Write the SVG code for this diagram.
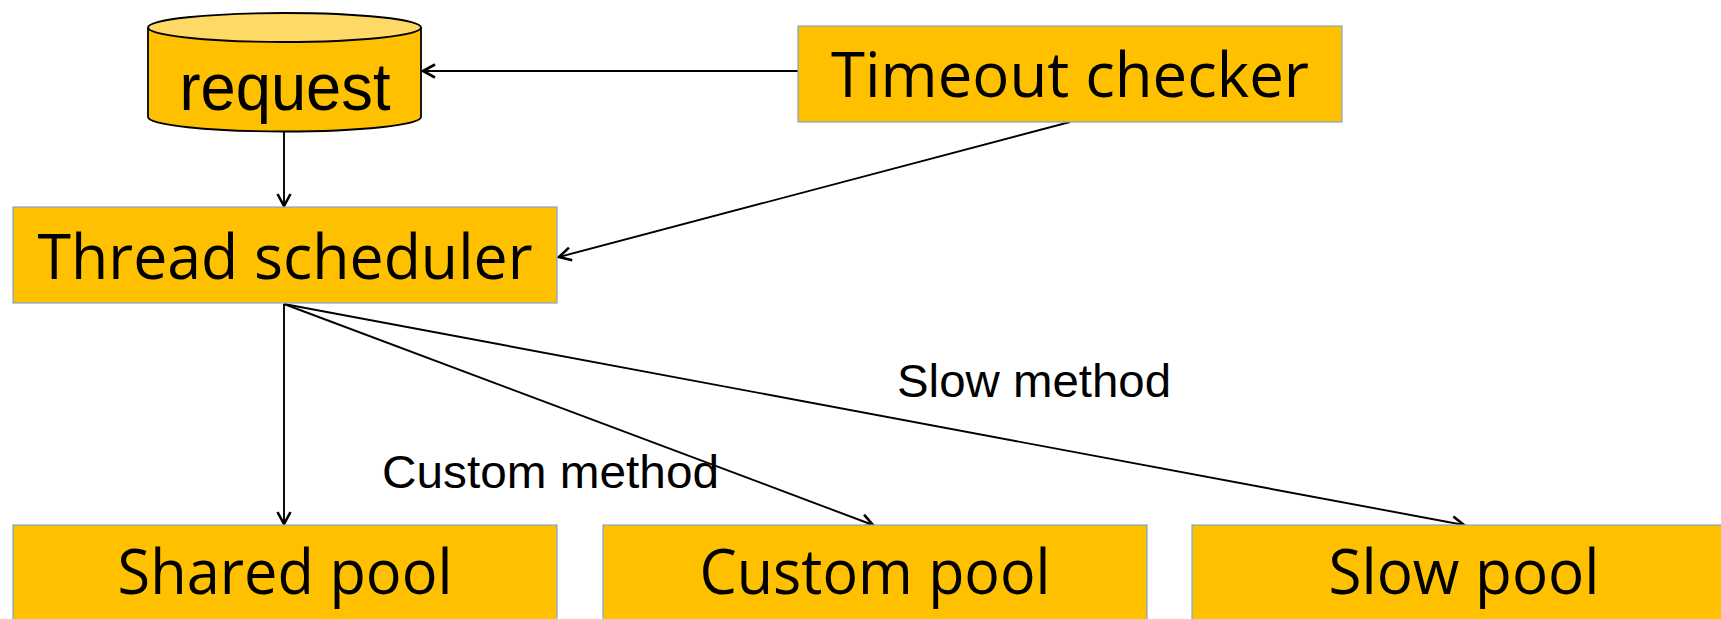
<svg xmlns="http://www.w3.org/2000/svg" width="1721" height="619" viewBox="0 0 1721 619">
<style>
.box{fill:#FFC000;stroke:#7EA6CF;stroke-width:1.2}
.nt{font-family:"Open Sans","DejaVu Sans",sans-serif;font-size:62px;fill:#000;text-anchor:middle}
.lt{font-family:"Liberation Sans",Arial,sans-serif;font-size:47px;fill:#000}
.cn{stroke:#000;stroke-width:1.9;fill:none;marker-end:url(#arr)}
</style>
<defs>
<marker id="arr" markerWidth="18" markerHeight="18" refX="14" refY="9" orient="auto" markerUnits="userSpaceOnUse">
<path d="M2,2.5 L14,9 L2,15.5" fill="none" stroke="#000" stroke-width="2.6" stroke-linejoin="miter"/>
</marker>
</defs>
<rect width="1721" height="619" fill="#fff"/>
<g id="connectors">
<line class="cn" x1="798" y1="71" x2="423" y2="71"/>
<line class="cn" x1="1070" y1="122" x2="559" y2="257"/>
<line class="cn" x1="284" y1="132" x2="284" y2="206"/>
<line class="cn" x1="284" y1="304" x2="284" y2="524"/>
<line class="cn" x1="284" y1="304" x2="873" y2="525"/>
<line class="cn" x1="284" y1="304" x2="1464" y2="525"/>
<text class="lt" x="382" y="488" textLength="337" lengthAdjust="spacingAndGlyphs">Custom method</text>
<text class="lt" x="897" y="397" textLength="274" lengthAdjust="spacingAndGlyphs">Slow method</text>
</g>
<g id="request">
<path d="M148,27.5 L148,117 A136.5,14.5 0 0 0 421,117 L421,27.5" fill="#FFC000" stroke="#000" stroke-width="1.8"/>
<ellipse cx="284.5" cy="27.5" rx="136.5" ry="14.5" fill="#FFD966" stroke="#000" stroke-width="1.8"/>
<text x="285" y="110" font-family="Liberation Sans, Arial, sans-serif" font-size="66" text-anchor="middle" textLength="211" lengthAdjust="spacingAndGlyphs">request</text>
</g>
<g id="timeout-checker">
<rect class="box" x="798" y="26" width="544" height="96"/>
<text class="nt" x="1070" y="97" textLength="478" lengthAdjust="spacingAndGlyphs">Timeout checker</text>
</g>
<g id="thread-scheduler">
<rect class="box" x="13" y="207" width="544" height="96"/>
<text class="nt" x="285" y="279" textLength="495" lengthAdjust="spacingAndGlyphs">Thread scheduler</text>
</g>
<g id="shared-pool">
<rect class="box" x="13" y="525" width="544" height="110"/>
<text class="nt" x="285" y="594" textLength="335" lengthAdjust="spacingAndGlyphs">Shared pool</text>
</g>
<g id="custom-pool">
<rect class="box" x="603" y="525" width="544" height="110"/>
<text class="nt" x="875" y="594" textLength="351" lengthAdjust="spacingAndGlyphs">Custom pool</text>
</g>
<g id="slow-pool">
<rect class="box" x="1192" y="525" width="544" height="110"/>
<text class="nt" x="1464" y="594" textLength="271" lengthAdjust="spacingAndGlyphs">Slow pool</text>
</g>
</svg>
